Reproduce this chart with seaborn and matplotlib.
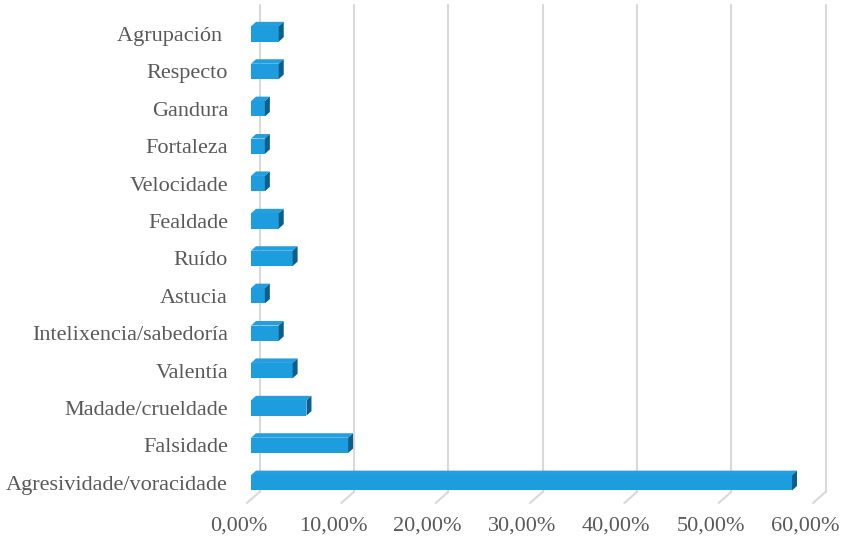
import matplotlib
matplotlib.use("Agg")
import matplotlib.pyplot as plt
from matplotlib.patches import Polygon
from matplotlib.lines import Line2D
from matplotlib.transforms import ScaledTranslation
import seaborn as sns
import pandas as pd

categories = ["Agrupación ", "Respecto", "Gandura", "Fortaleza", "Velocidade",
              "Fealdade", "Ruído", "Astucia", "Intelixencia/sabedoría",
              "Valentía", "Madade/crueldade", "Falsidade", "Agresividade/voracidade"]
values = [2.94, 2.94, 1.47, 1.47, 1.47, 2.94, 4.41, 1.47, 2.94, 4.41, 5.88, 10.29, 57.35]
xticks = [0, 10, 20, 30, 40, 50, 60]
xtick_labels = ["0,00%", "10,00%", "20,00%", "30,00%", "40,00%", "50,00%", "60,00%"]

df = pd.DataFrame({"cat": categories, "val": values})

sns.set_style("white")
W, H = 842, 540
fig = plt.figure(figsize=(W / 100, H / 100), dpi=100)
x0, x1, ytop, ybot = 251, 817, 5, 503
ax = fig.add_axes([x0 / W, 1 - ybot / H, (x1 - x0) / W, (ybot - ytop) / H])

front = "#1d9ddd"
topc = "#239fdf"
side = "#0c5f8c"

sns.barplot(data=df, y="cat", x="val", orient="h", color=front, width=0.41,
            saturation=1, ax=ax, zorder=3)

# y range: category 0 center at px 34, spacing 37.4 px
sp = 37.4
c_top = (ytop - 34) / sp
c_bot = (ybot - 34) / sp
ax.set_ylim(c_bot, c_top)
ax.set_xlim(0, 60)

pxx = (x1 - x0) / 60.0  # px per percent
dx = 5 / pxx
dy = 4.5 / sp

for p in ax.patches:
    p.set_edgecolor("none")
    bx, by, bw, bh = p.get_x(), p.get_y(), p.get_width(), p.get_height()
    topface = Polygon([(bx, by), (bx + dx, by - dy), (bx + bw + dx, by - dy), (bx + bw, by)],
                      closed=True, facecolor=topc, edgecolor="none", zorder=3)
    sideface = Polygon([(bx + bw, by), (bx + bw + dx, by - dy), (bx + bw + dx, by + bh - dy),
                        (bx + bw, by + bh)],
                       closed=True, facecolor=side, edgecolor="none", zorder=3)
    ax.add_patch(topface)
    ax.add_patch(sideface)

# gridlines on back wall + floor diagonals
gdx = 8.5 / pxx
c_floor_back = (492 - 34) / sp
fdx = 4 / pxx
for t in xticks:
    ax.add_line(Line2D([t + gdx, t + gdx], [c_top, c_floor_back], color="#d9d9d9",
                       lw=1.5, zorder=1, clip_on=False))
    ax.add_line(Line2D([t + gdx, t - fdx], [c_floor_back, c_bot], color="#d9d9d9",
                       lw=1.5, zorder=1, clip_on=False))

for s in ax.spines.values():
    s.set_visible(False)
ax.set_xlabel("")
ax.set_ylabel("")
ax.set_xticks(xticks)
ax.set_xticklabels(xtick_labels)
ax.tick_params(axis="both", length=0, labelcolor="#595959", labelsize=16)
ax.tick_params(axis="y", pad=16.5)
ax.tick_params(axis="x", pad=10)
for lab in ax.get_xticklabels() + ax.get_yticklabels():
    lab.set_fontfamily("Liberation Serif")
off = ScaledTranslation(-12 / 100, 0, fig.dpi_scale_trans)
for lab in ax.get_xticklabels():
    lab.set_transform(lab.get_transform() + off)

fig.savefig("out.png", dpi=100)
